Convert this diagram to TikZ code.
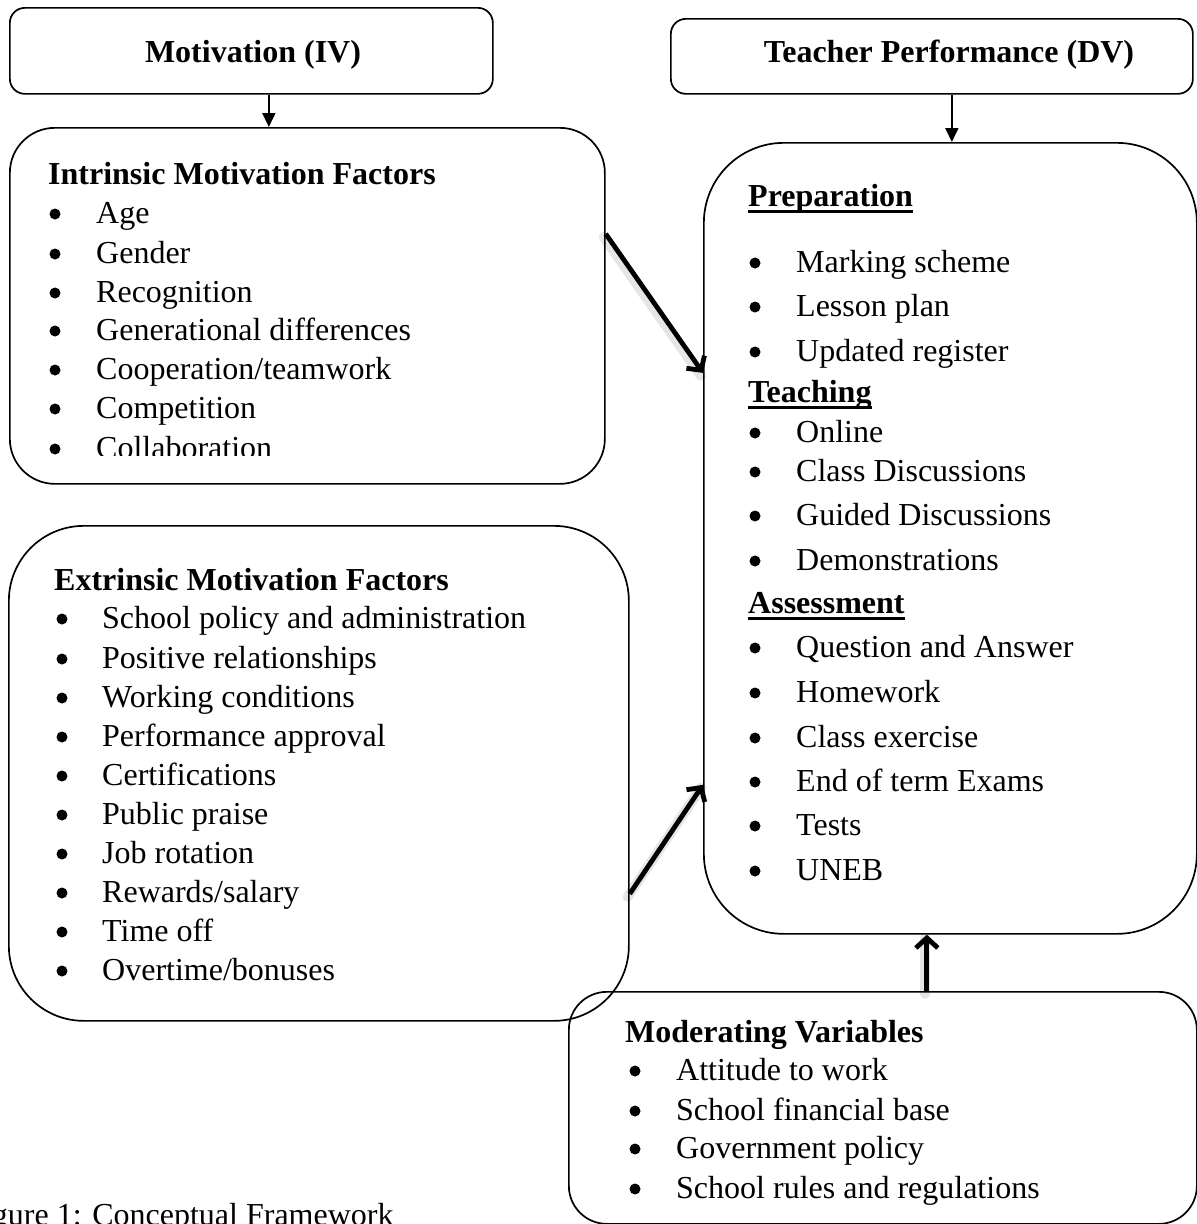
\documentclass[tikz,border=0pt]{standalone}
\usepackage{fontspec}
\setmainfont{Liberation Serif}
\usetikzlibrary{arrows.meta}
\newcommand{\bitem}[5]{%
  \node[bdot] (#1b) at (#2,#4-9) {};
  \node[txt] (#1) at (#3,#4) {#5};}
\begin{document}
\begin{tikzpicture}[x=1pt,y=-1pt,
  box/.style={draw, line width=1.7pt, anchor=north west, inner sep=0pt},
  txt/.style={anchor=base west, inner sep=0pt, font=\fontsize{32}{38}\selectfont},
  hd/.style={anchor=base west, inner sep=0pt, font=\fontsize{32}{38}\selectfont\bfseries},
  bdot/.style={circle, fill=black, draw=none, inner sep=0pt, minimum size=11pt},
  thinarr/.style={line width=1.8pt, -{Triangle[length=14pt,width=13pt]}},
  bigarr/.style={line width=4.8pt, -{Straight Barb[length=10pt,width=22pt,line width=4.8pt]}},
  arrshadow/.style={line width=10pt, black, opacity=0.10, line cap=round},
  ulinestyle/.style={line width=3pt}
]
\useasboundingbox (0,0) rectangle (1197,1224);
\fill[white] (0,0) rectangle (1197,1224);

% header boxes
\node[box, rounded corners=15pt, minimum width=483pt, minimum height=86pt] (mot) at (9,7) {};
\node[hd, anchor=base] (motl) at (253,62) {Motivation (IV)};
\node[box, rounded corners=15pt, minimum width=522pt, minimum height=75pt] (tp) at (670,18) {};
\node[hd, anchor=base] (tpl) at (949,62) {Teacher Performance (DV)};

% intrinsic
\node[box, rounded corners=45pt, minimum width=595pt, minimum height=356pt] (intr) at (9,127) {};
\node[hd] (intrh) at (48,184) {Intrinsic Motivation Factors};
\bitem{i1}{55}{96}{223}{Age}
\bitem{i2}{55}{96}{263}{Gender}
\bitem{i3}{55}{96}{302}{Recognition}
\bitem{i4}{55}{96}{340}{Generational differences}
\bitem{i5}{55}{96}{379}{Cooperation/teamwork}
\bitem{i6}{55}{96}{418}{Competition}
\begin{scope}
\clip (0,0) rectangle (1197,455);
\bitem{i7}{55}{96}{458}{Collaboration}
\end{scope}

% extrinsic
\node[box, rounded corners=75pt, minimum width=620pt, minimum height=495pt] (extr) at (8,525) {};
\node[hd] (extrh) at (54,590) {Extrinsic Motivation Factors};
\bitem{e1}{62}{102}{628}{School policy and administration}
\bitem{e2}{62}{102}{668}{Positive relationships}
\bitem{e3}{62}{102}{707}{Working conditions}
\bitem{e4}{62}{102}{746}{Performance approval}
\bitem{e5}{62}{102}{785}{Certifications}
\bitem{e6}{62}{102}{824}{Public praise}
\bitem{e7}{62}{102}{863}{Job rotation}
\bitem{e8}{62}{102}{902}{Rewards/salary}
\bitem{e9}{62}{102}{941}{Time off}
\bitem{e10}{62}{102}{980}{Overtime/bonuses}

% performance
\node[box, rounded corners=80pt, minimum width=493pt, minimum height=791pt] (perf) at (703,142) {};
\node[hd] (prep) at (748,206) {Preparation};
\bitem{p1}{755}{796}{272}{Marking scheme}
\bitem{p2}{755}{796}{316}{Lesson plan}
\bitem{p3}{755}{796}{361}{Updated register}
\node[hd] (teach) at (748,402) {Teaching};
\bitem{t1}{755}{796}{442}{Online}
\bitem{t2}{755}{796}{481}{Class Discussions}
\bitem{t3}{755}{796}{525}{Guided Discussions}
\bitem{t4}{755}{796}{570}{Demonstrations}
\node[hd] (assess) at (748,613) {Assessment};
\bitem{a1}{755}{796}{657}{Question and Answer}
\bitem{a2}{755}{796}{702}{Homework}
\bitem{a3}{755}{796}{747}{Class exercise}
\bitem{a4}{755}{796}{791}{End of term Exams}
\bitem{a5}{755}{796}{835}{Tests}
\bitem{a6}{755}{796}{880}{UNEB}
\foreach \h in {prep,teach,assess}
  \draw[ulinestyle] ([yshift=-5pt]\h.base west) -- ([yshift=-5pt]\h.base east);

% moderating
\node[box, rounded corners=38pt, minimum width=628pt, minimum height=232pt] (mod) at (568,991) {};
\node[hd] (modh) at (625,1042) {Moderating Variables};
\bitem{m1}{635}{676}{1080}{Attitude to work}
\bitem{m2}{635}{676}{1120}{School financial base}
\bitem{m3}{635}{676}{1158}{Government policy}
\bitem{m4}{635}{676}{1198}{School rules and regulations}

% caption
\node[txt] (cap) at (-35,1225) {Figure 1: Conceptual Framework};

% connectors
\draw[thinarr] ([xshift=17.5pt]mot.south) -- ([xshift=17.5pt]mot.south |- intr.north);
\draw[thinarr] ([xshift=20pt]tp.south) -- ([xshift=20pt]tp.south |- perf.north);

\begin{scope}[transform canvas={xshift=-2pt,yshift=-3pt}]
\draw[arrshadow] ([yshift=72pt]intr.east) -- ([yshift=165.5pt]perf.west);
\draw[arrshadow] ([yshift=-120.5pt]extr.east) -- ([yshift=-246.5pt]perf.west);
\draw[arrshadow] ([xshift=44pt]mod.north) -- ([xshift=44pt]mod.north |- perf.south);
\end{scope}
\draw[bigarr] ([yshift=72pt]intr.east) -- ([yshift=165.5pt]perf.west);
\draw[bigarr] ([yshift=-120.5pt]extr.east) -- ([yshift=-246.5pt]perf.west);
\draw[bigarr] ([xshift=44pt]mod.north) -- ([xshift=44pt]mod.north |- perf.south);
\end{tikzpicture}
\end{document}
